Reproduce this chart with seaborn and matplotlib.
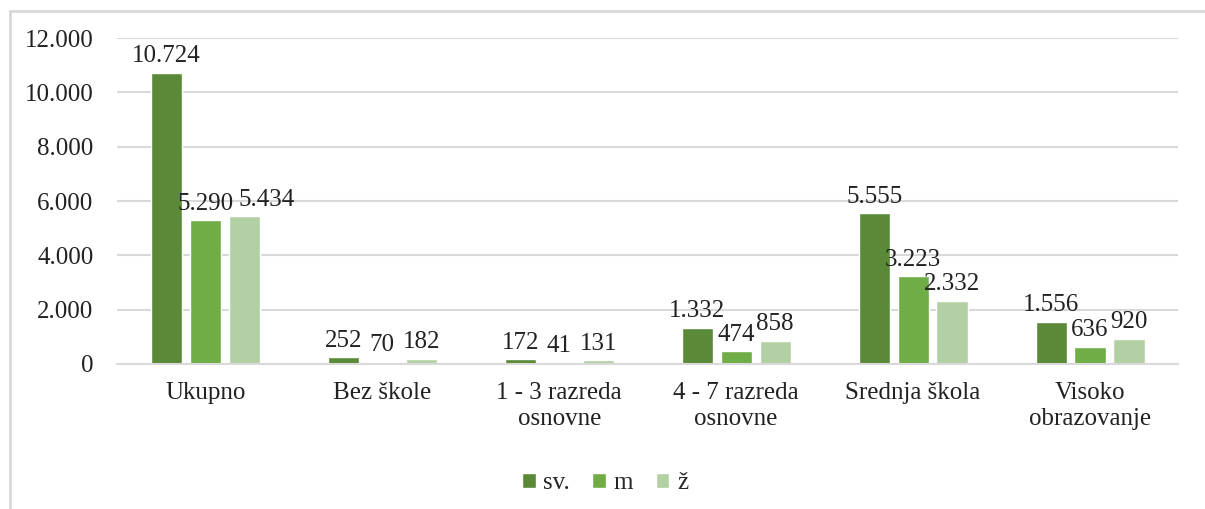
import numpy as np
import pandas as pd
import matplotlib.pyplot as plt
import seaborn as sns
from matplotlib.lines import Line2D

# -------------------- data --------------------
categories = ['Ukupno', 'Bez škole', '1 - 3 razreda\nosnovne', '4 - 7 razreda\nosnovne',
              'Srednja škola', 'Visoko\nobrazovanje']
series = ['sv.', 'm', 'ž']
sv_vals = [10724, 252, 172, 1332, 5555, 1556]
m_vals = [5290, 70, 41, 474, 3223, 636]
z_vals = [5434, 182, 131, 858, 2332, 920]
y_ticks = [0, 2000, 4000, 6000, 8000, 10000, 12000]
colors = ['#5A8A37', '#70AD47', '#B3D0A5']

df = pd.DataFrame({
    'kategorija': categories * 3,
    'serija': [s for s in series for _ in categories],
    'broj': sv_vals + m_vals + z_vals,
})

def dot_fmt(v):
    return f'{int(round(v)):,}'.replace(',', '.')

# -------------------- plot --------------------
sns.set_style('white')
plt.rcParams['font.family'] = ['Liberation Serif', 'DejaVu Serif']
fs = 18
txt = '#222222'

fig = plt.figure(figsize=(12.05, 5.09), dpi=100)
ax = fig.add_axes([0.097, 0.285, 0.881, 0.64])

sns.barplot(data=df, x='kategorija', y='broj', hue='serija', palette=colors,
            width=0.66, gap=0.2, saturation=1, ax=ax, legend=True)

for i, cont in enumerate(ax.containers):
    anns = ax.bar_label(cont, labels=[dot_fmt(v) for v in cont.datavalues],
                        padding=4, fontsize=fs, color=txt)
    # like Excel, push the "ž" label of the first group aside so it doesn't collide
    if i == 2:
        anns[0].xyann = (16, 4)

ax.set_ylim(0, 12000)
ax.set_yticks(y_ticks)
ax.set_yticklabels([dot_fmt(v) for v in y_ticks], fontsize=fs, color=txt)
ax.set_xticks(range(len(categories)))
ax.set_xticklabels(categories, fontsize=fs, color=txt, linespacing=1.25)
ax.tick_params(axis='x', pad=13, length=0)
ax.tick_params(axis='y', pad=17, length=0)
ax.set_xlabel('')
ax.set_ylabel('')
ax.grid(axis='y', color='#D9D9D9', linewidth=1.5)
ax.set_axisbelow(True)
for s in ['top', 'right', 'left']:
    ax.spines[s].set_visible(False)
ax.spines['bottom'].set_color('#D9D9D9')
ax.spines['bottom'].set_linewidth(1.5)
ax.set_xlim(-0.5, len(categories) - 0.5)

ax.legend(loc='center', bbox_to_anchor=(0.502, 0.051), bbox_transform=fig.transFigure,
          ncol=3, frameon=False, fontsize=fs, handlelength=0.55, handleheight=0.55,
          handletextpad=0.3, columnspacing=0.9)

# chart-area frame (only top and left edges visible in the crop)
fig.lines.append(Line2D([0.0083, 1.0], [0.979, 0.979], transform=fig.transFigure,
                        color='#D9D9D9', linewidth=2))
fig.lines.append(Line2D([0.0083, 0.0083], [0.0, 0.979], transform=fig.transFigure,
                        color='#D9D9D9', linewidth=2))

fig.savefig('out.png', dpi=100)
